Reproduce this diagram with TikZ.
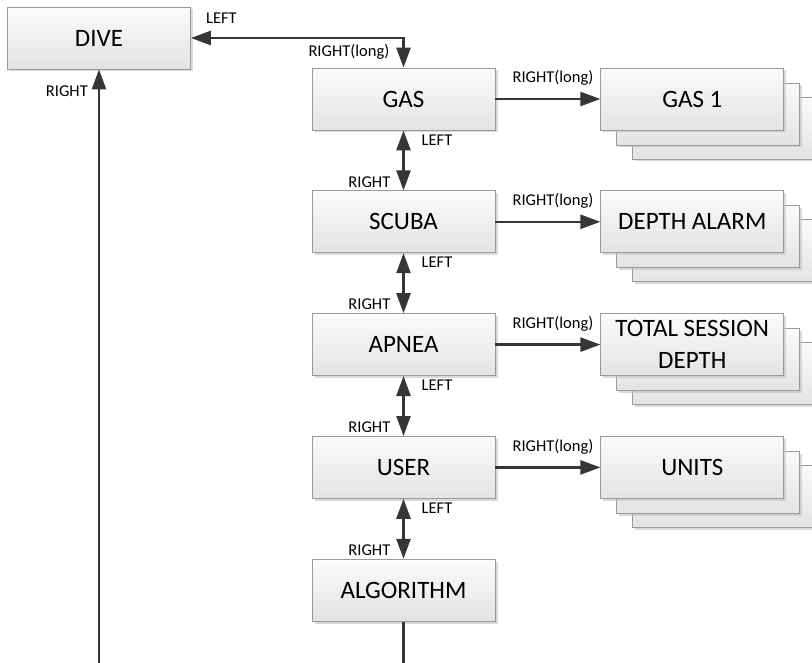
\documentclass[tikz,border=0pt]{standalone}
\usepackage{fontspec}
\setmainfont{Carlito}
\usetikzlibrary{arrows.meta,positioning,shadows,backgrounds}
\definecolor{BoxTop}{HTML}{FBFBFB}
\definecolor{BoxBottom}{HTML}{E3E3E3}
\definecolor{BoxLine}{HTML}{9A9A9A}
\definecolor{LinkGray}{HTML}{363636}

\begin{document}
\begin{tikzpicture}[node distance=60pt and 105pt, every node/.style={font=\fontsize{25}{32}\selectfont}]
\tikzset{box/.style={draw=BoxLine, line width=0.8pt, top color=BoxTop, bottom color=BoxBottom, minimum width=183pt, minimum height=62pt, inner sep=3pt, align=center, drop shadow={shadow xshift=2.5pt, shadow yshift=-2.5pt, fill=black!25, opacity=0.6}}}
\tikzset{lbl/.style={inner sep=0pt, font=\fontsize{16.5}{20}\selectfont}}
\tikzset{link/.style={draw=LinkGray, line width=2.5pt}}
\tikzset{arrow/.style={link, -{Triangle[length=20pt, width=14pt]}}}
\tikzset{twoway/.style={link, {Triangle[length=20pt, width=14pt]}-{Triangle[length=20pt, width=14pt]}}}
\useasboundingbox (0,0) rectangle (812pt,-663pt);
\coordinate (bottom) at (0,-667pt);
% menu column
\node[box] (dive) at (99pt,-38pt) {DIVE};
\node[box] (gas) at (403.5pt,-99pt) {GAS};
\node[box, below=of gas] (scuba) {SCUBA};
\node[box, below=of scuba] (apnea) {APNEA};
\node[box, below=of apnea] (user) {USER};
\node[box, below=of user] (algo) {ALGORITHM};
% sub menus
\node[box, right=of gas] (gas1) {GAS 1};
\node[box, right=of scuba] (alarm) {DEPTH ALARM};
\node[box, right=of apnea] (session) {TOTAL SESSION\\DEPTH};
\node[box, right=of user] (units) {UNITS};
\begin{pgfonlayer}{background}
\foreach \n in {gas1,alarm,session,units} {
  \node[box] (\n-c) at ([shift={(32pt,-29pt)}]\n.center) {};
  \node[box] (\n-b) at ([shift={(16pt,-15pt)}]\n.center) {};
}
\end{pgfonlayer}
% links
\draw[twoway] (dive.east) -| (gas.north);
\node[lbl, above right=14pt and 15pt of dive.east] (dive-left) {LEFT};
\node[lbl, above left=8pt and 14pt of gas.north] (gas-long) {RIGHT(long)};
\foreach \a/\b in {gas/gas1, scuba/alarm, apnea/session, user/units} {
  \draw[arrow] (\a) -- (\b);
  \node[lbl, above right=13pt and 17pt of \a.east] (\a-sub) {RIGHT(long)};
}
\foreach \a/\b in {gas/scuba, scuba/apnea, apnea/user, user/algo} {
  \draw[twoway] (\a) -- (\b);
  \node[lbl, below right=4pt and 18pt of \a.south] (\a-left) {LEFT};
  \node[lbl, above left=3pt and 13pt of \b.north] (\b-right) {RIGHT};
}
\coordinate (divefoot) at (dive.south |- bottom);
\coordinate (algofoot) at (algo.south |- bottom);
\draw[arrow] (divefoot) -- (dive.south);
\node[lbl, below left=16pt and 11pt of dive.south] (dive-right) {RIGHT};
\draw[link] (algo) -- (algofoot);
\end{tikzpicture}
\end{document}
